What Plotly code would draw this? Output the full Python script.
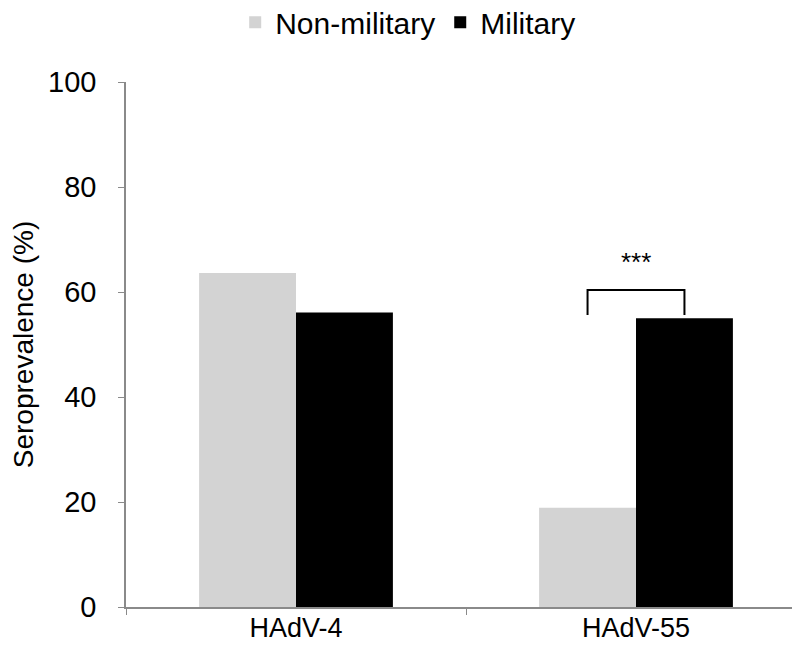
import plotly.graph_objects as go

categories = ["HAdV-4", "HAdV-55"]
non_military = [63.6, 18.9]
military = [56.1, 55.0]
series_names = ["Non-military", "Military"]
y_ticks = [0, 20, 40, 60, 80, 100]
sig_label = "***"

bargap = 0.43
font_family = "Arial, Liberation Sans, sans-serif"

fig = go.Figure()
fig.add_trace(go.Bar(x=categories, y=non_military, name=series_names[0],
                     marker=dict(color="#D3D3D3", line=dict(width=0))))
fig.add_trace(go.Bar(x=categories, y=military, name=series_names[1],
                     marker=dict(color="#000000", line=dict(width=0))))

# significance bracket over HAdV-55 (category index 1)
bw = (1 - bargap) / 2
idx = 1
xl = idx - bw / 2
xr = idx + bw / 2
top = max(non_military[idx], military[idx]) + 5.4
leg_bottom = military[idx] + 0.6
fig.add_shape(type="path",
              path=f"M {xl} {leg_bottom} L {xl} {top} L {xr} {top} L {xr} {leg_bottom}",
              xref="x", yref="y", line=dict(color="black", width=2))
fig.add_annotation(x=idx, y=top + 2.0, xref="x", yref="y", yanchor="bottom",
                   text=sig_label, showarrow=False,
                   font=dict(size=26, color="black", family=font_family))

fig.update_layout(
    width=800, height=645,
    barmode="group", bargap=bargap, bargroupgap=0,
    plot_bgcolor="white", paper_bgcolor="white",
    margin=dict(l=118, r=2, t=74, b=46, autoexpand=False),
    font=dict(family=font_family, size=29, color="black"),
    legend=dict(orientation="h", x=0.415, xanchor="center", xref="paper",
                y=1.114, yanchor="middle", yref="paper",
                font=dict(size=30), itemwidth=30, traceorder="normal"),
    xaxis=dict(showline=True, linecolor="#8a8a8a", linewidth=1.5,
               ticks="outside", tickcolor="#8a8a8a", ticklen=6, tickson="boundaries",
               tickfont=dict(size=27), ticklabelstandoff=-4, automargin=False),
    yaxis=dict(range=[0, 100], tickvals=y_ticks, showline=True, linecolor="#8a8a8a",
               linewidth=1.5, ticks="outside", tickcolor="#8a8a8a", ticklen=6,
               showgrid=False, zeroline=False, tickfont=dict(size=29),
               ticklabelstandoff=16, automargin=False,
               title=dict(text="Seroprevalence (%)", font=dict(size=28), standoff=10)),
)

fig.write_html("out.html")
